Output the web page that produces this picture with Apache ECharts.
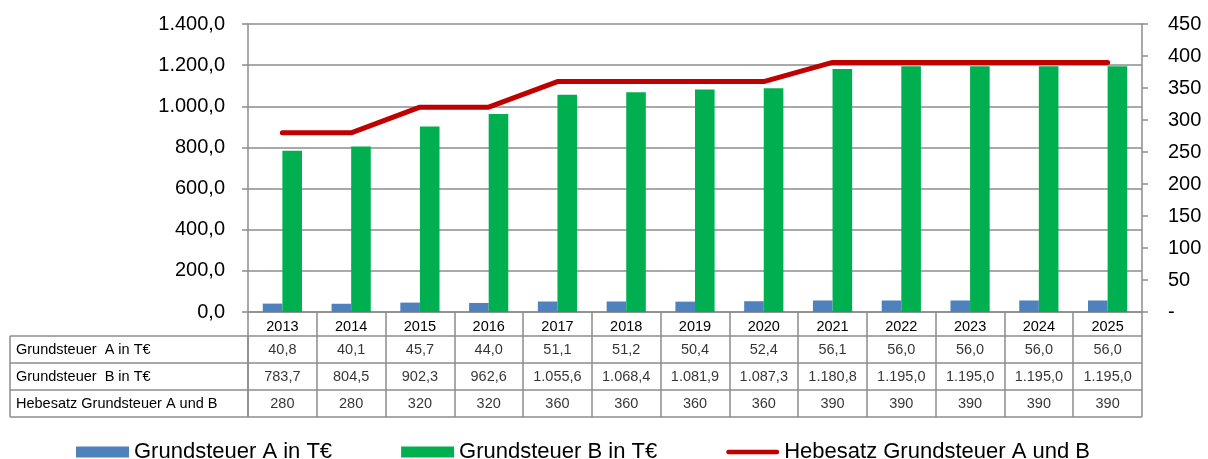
<!DOCTYPE html>
<html><head><meta charset="utf-8">
<script src="https://cdn.jsdelivr.net/npm/echarts@6/dist/echarts.min.js"></script>
<style>html,body{margin:0;padding:0;background:#fff}#c{width:1208px;height:459px}</style>
</head><body><div id="c"></div>
<script>
const years = ['2013','2014','2015','2016','2017','2018','2019','2020','2021','2022','2023','2024','2025'];
const grundsteuerA = [40.8,40.1,45.7,44.0,51.1,51.2,50.4,52.4,56.1,56.0,56.0,56.0,56.0];
const grundsteuerB = [783.7,804.5,902.3,962.6,1055.6,1068.4,1081.9,1087.3,1180.8,1195.0,1195.0,1195.0,1195.0];
const hebesatz = [280,280,320,320,360,360,360,360,390,390,390,390,390];
const seriesNames = ['Grundsteuer A in T€','Grundsteuer B in T€','Hebesatz Grundsteuer A und B'];
const tableRowLabels = ['Grundsteuer  A in T€','Grundsteuer  B in T€','Hebesatz Grundsteuer A und B'];
const tableRowKeys = ['A','B','H'];
const leftAxis = {min:0, max:1400, interval:200};
const rightAxis = {min:0, max:450, interval:50};

const FONT = '"Liberation Sans", Arial, sans-serif';
const GRAY = '#8c8c8c';
const TFS = 14.5;

function fmtDE(v, dec){
  const s = v.toFixed(dec);
  const parts = s.split('.');
  const intPart = parts[0].replace(/\B(?=(\d{3})+(?!\d))/g, '.');
  return dec > 0 ? intPart + ',' + parts[1] : intPart;
}

const tableRows = [
  {key:'A', values: grundsteuerA, dec:1},
  {key:'B', values: grundsteuerB, dec:1},
  {key:'H', values: hebesatz, dec:0}
];

const tableSeries = tableRows.map(r => ({
  type:'scatter', xAxisIndex:1, yAxisIndex:2, symbolSize:1,
  itemStyle:{color:'transparent'}, silent:true,
  data: years.map((y,i)=>({value:[y, r.key], txt: fmtDE(r.values[i], r.dec)})),
  label:{show:true, position:'inside', color:'#000', fontSize:TFS, fontFamily:FONT,
    formatter: p => p.data.txt}
}));

const chart = echarts.init(document.getElementById('c'), null, {renderer:'canvas'});
chart.setOption({
  animation:false,
  backgroundColor:'#fff',
  textStyle:{fontFamily:FONT},
  grid:[
    {left:248, top:24, width:894, height:288},
    {left:248, top:336, width:894, height:81},
    {left:10, top:336, width:238, height:81}
  ],
  legend:{
    left:76, top:441, padding:0, itemWidth:53, itemHeight:11, itemGap:69,
    textStyle:{fontSize:22, color:'#000', fontFamily:FONT, lineHeight:22},
    data:[
      {name:seriesNames[0], icon:'rect'},
      {name:seriesNames[1], icon:'rect'},
      {name:seriesNames[2], icon:'path://M2,0H51A2,2 0 0 1 51,4.5H2A2,2 0 0 1 2,0Z',
        itemStyle:{color:'#C00000', borderWidth:0}}
    ]
  },
  xAxis:[
    {type:'category', gridIndex:0, data:years, boundaryGap:true,
      axisLine:{lineStyle:{color:GRAY, width:1.5}},
      axisTick:{show:true, length:24, interval:0, lineStyle:{color:GRAY, width:1.5}},
      axisLabel:{interval:0, margin:7, fontSize:TFS, color:'#000', fontFamily:FONT},
      splitLine:{show:false}},
    {type:'category', gridIndex:1, data:years, boundaryGap:true,
      axisLine:{show:false}, axisTick:{show:false}, axisLabel:{show:false},
      splitLine:{show:true, interval:0, lineStyle:{color:GRAY, width:1.5}}},
    {type:'category', gridIndex:2, data:[''], boundaryGap:true,
      axisLine:{show:false}, axisTick:{show:false}, axisLabel:{show:false},
      splitLine:{show:true, interval:0, lineStyle:{color:GRAY, width:1.5}}}
  ],
  yAxis:[
    {type:'value', gridIndex:0, position:'left', min:leftAxis.min, max:leftAxis.max, interval:leftAxis.interval,
      axisLine:{show:true, lineStyle:{color:GRAY, width:1.5}},
      axisTick:{show:true, length:6, lineStyle:{color:GRAY, width:1.5}},
      axisLabel:{margin:23, fontSize:20, color:'#000', fontFamily:FONT, formatter: v => fmtDE(v,1)},
      splitLine:{show:true, lineStyle:{color:GRAY, width:1.5}}},
    {type:'value', gridIndex:0, position:'right', min:rightAxis.min, max:rightAxis.max, interval:rightAxis.interval,
      axisLine:{show:true, lineStyle:{color:GRAY, width:1.5}},
      axisTick:{show:true, length:6, lineStyle:{color:GRAY, width:1.5}},
      axisLabel:{margin:26, fontSize:20, color:'#000', fontFamily:FONT, formatter: v => v === 0 ? '-' : String(v)},
      splitLine:{show:false}},
    {type:'category', gridIndex:1, data:tableRowKeys, inverse:true,
      axisLine:{show:false}, axisTick:{show:false}, axisLabel:{show:false},
      splitLine:{show:true, interval:0, lineStyle:{color:GRAY, width:1.5}}},
    {type:'category', gridIndex:2, data:tableRowLabels, inverse:true,
      axisLine:{show:false}, axisTick:{show:false},
      axisLabel:{show:true, inside:true, margin:6, interval:0, fontSize:TFS, color:'#000', fontFamily:FONT},
      splitLine:{show:true, interval:0, lineStyle:{color:GRAY, width:1.5}}}
  ],
  series:[
    {name:seriesNames[0], type:'bar', xAxisIndex:0, yAxisIndex:0, data:grundsteuerA,
      itemStyle:{color:'#4F81BD'}, barGap:'0%', barCategoryGap:'43%'},
    {name:seriesNames[1], type:'bar', xAxisIndex:0, yAxisIndex:0, data:grundsteuerB,
      itemStyle:{color:'#00B050'}, barGap:'0%', barCategoryGap:'43%'},
    {name:seriesNames[2], type:'line', xAxisIndex:0, yAxisIndex:1, data:hebesatz,
      symbol:'none', showSymbol:false, z:5,
      lineStyle:{color:'#C00000', width:5, cap:'round', join:'round'},
      itemStyle:{color:'#C00000'}},
    ...tableSeries
  ]
});
</script></body></html>
